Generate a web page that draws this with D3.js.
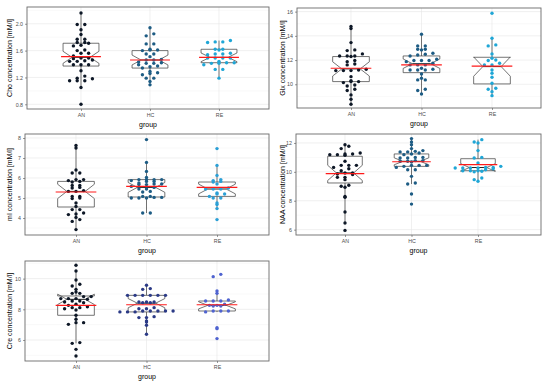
<!DOCTYPE html>
<html>
<head>
<meta charset="utf-8">
<script src="https://cdn.jsdelivr.net/npm/d3@7"></script>
<style>
  body { margin: 0; background: #fff; }
  svg { font-family: "Liberation Sans", Arial, sans-serif; }
</style>
</head>
<body>
<div id="chart"></div>
<script>
var groups = ["AN", "HC", "RE"];

// Cho
var choAN = [2.16,1.99,1.99,1.91,1.84,1.77,1.77,1.72,1.71,1.68,1.67,1.72,1.60,1.61,1.56,1.56,1.52,1.48,1.49,1.49,1.44,1.45,1.46,1.44,1.39,1.39,1.39,1.30,1.22,1.19,1.15,1.15,1.15,1.18,1.05,0.80];
var choHC = [1.94,1.82,1.85,1.70,1.70,1.60,1.61,1.61,1.62,1.51,1.55,1.55,1.46,1.46,1.47,1.41,1.43,1.42,1.41,1.39,1.36,1.37,1.34,1.29,1.27,1.26,1.24,1.19,1.19,1.14,1.09];
var choRE = [1.75,1.73,1.73,1.72,1.62,1.61,1.62,1.55,1.56,1.54,1.55,1.49,1.49,1.49,1.49,1.44,1.42,1.42,1.41,1.41,1.39,1.32,1.32,1.19];
var choBox = [[1.05,1.37,1.50,1.71,2.16],[1.09,1.34,1.46,1.60,1.94],[1.19,1.42,1.50,1.62,1.75]];
var choMean = [1.51,1.46,1.50];

// Glx
var glxAN = [14.77,14.6,13.44,12.78,12.84,12.34,12.34,12.34,12.29,12.51,11.87,11.96,11.68,11.60,11.13,11.13,11.24,11.18,11.13,10.63,10.30,10.22,10.22,10.14,9.94,9.86,9.59,9.48,9.12,8.76,8.35];
var glxHC = [14.13,13.17,13.17,12.89,12.89,12.84,12.34,12.48,12.56,12.42,11.96,11.96,11.96,11.87,12.07,11.6,11.6,11.74,11.6,11.18,11.18,11.24,11.18,11.32,10.85,10.5,10.36,10.36,9.59,9.48,9.2];
var glxRE = [15.87,13.8,13.25,13.17,12.51,12.01,12.15,11.96,11.74,11.6,11.6,11.18,10.91,10.58,10.08,9.67,9.59,9.39,9.06];
var glxBox = [[8.35,10.22,11.27,12.29,14.77],[9.2,10.96,11.7,12.34,14.13],[9.06,10.03,11.46,12.23,13.8]];
var glxMean = [11.32,11.6,11.5];

// mI
var miAN = [7.63,7.5,6.4,6.25,6.25,5.92,5.92,5.87,5.8,5.83,5.63,5.63,5.53,5.5,5.33,5.33,5.37,5.08,5.08,5.0,4.97,4.75,4.58,4.42,4.42,4.25,4.2,4.17,4.03,3.92,3.83,3.42];
var miHC = [7.92,6.78,6.33,5.92,5.83,5.75,5.92,5.87,5.92,6.03,5.83,5.92,5.53,5.7,5.67,5.7,5.67,5.45,5.58,5.45,5.33,5.3,5.08,5.03,5.0,5.0,5.0,5.03,5.08,4.25,4.25];
var miRE = [7.47,6.63,6.13,5.92,5.8,5.7,5.87,5.83,5.45,5.45,5.45,5.5,5.2,5.2,5.25,5.0,5.0,5.08,4.75,4.67,4.47,3.92];
var miBox = [[3.42,4.55,5.33,5.83,7.63],[4.25,5.05,5.53,5.92,6.78],[4.47,5.08,5.45,5.8,6.63]];
var miMean = [5.3,5.58,5.53];

// NAA
var naaAN = [11.88,11.77,11.61,11.24,11.19,11.15,11.24,11.19,11.31,10.73,10.45,10.45,10.45,10.31,10.22,10.08,9.93,9.81,9.85,9.92,9.62,9.62,9.46,9.07,8.93,9.0,8.24,8.3,7.22,6.46,5.95];
var naaHC = [12.3,12.07,11.88,11.61,11.38,11.31,11.42,11.38,11.47,11.0,11.19,10.96,11.24,10.96,11.0,10.73,10.78,10.68,10.73,10.78,10.45,10.31,10.38,10.45,10.45,10.15,10.15,9.69,9.16,9.23,8.47,7.77];
var naaRE = [12.23,12.07,12.0,11.47,11.0,10.96,10.31,10.38,10.61,10.27,10.27,10.22,10.27,10.27,10.31,10.08,10.08,10.04,10.08,10.15,10.0,9.57,9.46,9.35];
var naaBox = [[6.46,9.23,9.93,11.08,11.88],[9.16,10.38,10.73,11.24,12.3],[9.35,10.08,10.3,10.91,12.23]];
var naaMean = [9.88,10.7,10.5];

// Cre
var creAN = [10.87,10.5,9.91,9.63,9.52,9.3,9.04,9.04,9.13,8.83,8.65,8.7,8.7,8.83,8.7,8.54,8.33,8.43,8.54,8.48,8.26,8.11,8.04,8.11,8.17,7.96,7.61,7.35,7.13,7.02,7.13,5.78,5.83,5.39,4.96];
var creHC = [9.35,9.57,9.3,8.91,8.91,8.91,8.91,8.91,8.91,8.48,8.48,8.43,8.48,8.43,8.04,8.04,8.11,7.89,7.83,7.83,7.89,7.83,7.89,7.89,7.89,7.46,7.46,7.52,7.24,7.17,6.96,6.37];
var creRE = [10.28,10.13,9.04,9.2,8.54,8.61,8.54,8.54,8.26,8.26,8.33,8.22,8.22,7.89,7.89,7.83,7.89,6.74,6.8,6.09];
var creBox = [[5.78,7.61,8.65,8.87,10.5],[6.37,7.83,8.4,8.91,9.57],[7.83,7.89,8.26,8.54,9.2]];
var creMean = [8.26,8.3,8.3];

var svg = d3.select("#chart").append("svg")
    .attr("width", 550)
    .attr("height", 384);

var panels = [
  {title: "Cho concentration [mM/l]", data: [choAN, choHC, choRE], box: choBox, mean: choMean,
   x0: 27, x1: 269, y0: 7, y1: 109, cx: [81, 219], dom: [0.73, 2.25], ticks: [0.8, 1.2, 1.6, 2.0], fmt: ".1f", tx: 10,
   colors: ["#0d1726", "#1d5c84", "#1fa6d6"]},
  {title: "Glx concentration [mM/l]", data: [glxAN, glxHC, glxRE], box: glxBox, mean: glxMean,
   x0: 297, x1: 541, y0: 8, y1: 108, cx: [351, 492], dom: [8.04, 16.3], ticks: [10, 12, 14, 16], fmt: "d", tx: 283,
   colors: ["#0d1726", "#1d5c84", "#1fa6d6"]},
  {title: "mI concentration [mM/l]", data: [miAN, miHC, miRE], box: miBox, mean: miMean,
   x0: 25, x1: 269, y0: 134, y1: 235, cx: [76, 217], dom: [3.15, 8.2], ticks: [4, 5, 6, 7, 8], fmt: "d", tx: 10,
   colors: ["#0d1726", "#1d5c84", "#2a9fd6"]},
  {title: "NAA concentration [mM/l]", data: [naaAN, naaHC, naaRE], box: naaBox, mean: naaMean,
   x0: 296, x1: 541, y0: 134, y1: 235, cx: [345, 478], dom: [5.63, 12.62], ticks: [6, 8, 10, 12], fmt: "d", tx: 283,
   colors: ["#0d1726", "#1d5c84", "#1fa6d6"]},
  {title: "Cre concentration [mM/l]", data: [creAN, creHC, creRE], box: creBox, mean: creMean,
   x0: 25, x1: 269, y0: 261, y1: 361, cx: [76, 217], dom: [4.63, 11.15], ticks: [6, 8, 10], fmt: "d", tx: 10,
   colors: ["#0d1726", "#2b3a86", "#4f63d0"]}
];

// beeswarm, "center" style: bin by pixel height, spread each bin evenly around the middle
function swarm(values, y, s, h) {
  var pts = values.map(function(v) { return {v: v, y: y(v), dx: 0}; });
  var bins = d3.group(pts, function(d) { return Math.round(d.y / h); });
  bins.forEach(function(arr) {
    arr.sort(function(a, b) { return a.v - b.v; });
    var k = arr.length;
    arr.forEach(function(p, i) { p.dx = (i - (k - 1) / 2) * s; });
  });
  return pts;
}

panels.forEach(function(p) {
  var g = svg.append("g");

  var x = d3.scalePoint().domain(groups).range(p.cx);
  var y = d3.scaleLinear().domain(p.dom).range([p.y1, p.y0]);
  var step = x.step();
  var bw = step * 0.52;

  // panel background + grid
  g.append("rect")
    .attr("x", p.x0).attr("y", p.y0)
    .attr("width", p.x1 - p.x0).attr("height", p.y1 - p.y0)
    .attr("fill", "#fff");

  var minor = [];
  for (var i = 0; i < p.ticks.length - 1; i++) minor.push((p.ticks[i] + p.ticks[i + 1]) / 2);
  var tstep = p.ticks[1] - p.ticks[0];
  minor.push(p.ticks[0] - tstep / 2, p.ticks[p.ticks.length - 1] + tstep / 2);
  minor = minor.filter(function(v) { return v > p.dom[0] && v < p.dom[1]; });

  g.selectAll(".minor-y").data(minor).enter().append("line")
    .attr("x1", p.x0).attr("x2", p.x1)
    .attr("y1", function(d) { return y(d); }).attr("y2", function(d) { return y(d); })
    .attr("stroke", "#f2f2f2").attr("stroke-width", 0.5);

  g.selectAll(".major-y").data(p.ticks).enter().append("line")
    .attr("x1", p.x0).attr("x2", p.x1)
    .attr("y1", function(d) { return y(d); }).attr("y2", function(d) { return y(d); })
    .attr("stroke", "#e6e6e6").attr("stroke-width", 0.6);

  g.selectAll(".major-x").data(groups).enter().append("line")
    .attr("x1", function(d) { return x(d); }).attr("x2", function(d) { return x(d); })
    .attr("y1", p.y0).attr("y2", p.y1)
    .attr("stroke", "#e6e6e6").attr("stroke-width", 0.6);

  // whiskers
  groups.forEach(function(grp, gi) {
    var b = p.box[gi], cx = x(grp);
    g.append("line").attr("x1", cx).attr("x2", cx)
      .attr("y1", y(b[3])).attr("y2", y(b[4]))
      .attr("stroke", "#3a3a3a").attr("stroke-width", 0.7);
    g.append("line").attr("x1", cx).attr("x2", cx)
      .attr("y1", y(b[1])).attr("y2", y(b[0]))
      .attr("stroke", "#3a3a3a").attr("stroke-width", 0.7);
  });

  // notched boxes
  groups.forEach(function(grp, gi) {
    var b = p.box[gi], cx = x(grp);
    var n = p.data[gi].length;
    var nh = 1.58 * (b[3] - b[1]) / Math.sqrt(n);
    var nlo = b[2] - nh, nhi = b[2] + nh;
    var xl = cx - bw / 2, xr = cx + bw / 2, inset = bw / 4;
    var poly = [
      [xl, y(b[1])], [xl, y(nlo)], [xl + inset, y(b[2])], [xl, y(nhi)], [xl, y(b[3])],
      [xr, y(b[3])], [xr, y(nhi)], [xr - inset, y(b[2])], [xr, y(nlo)], [xr, y(b[1])]
    ];
    g.append("path")
      .attr("d", d3.line()(poly) + "Z")
      .attr("fill", "#fff")
      .attr("stroke", "#3a3a3a").attr("stroke-width", 0.7);
    g.append("line")
      .attr("x1", xl + inset).attr("x2", xr - inset)
      .attr("y1", y(b[2])).attr("y2", y(b[2]))
      .attr("stroke", "#222").attr("stroke-width", 1);
  });

  // points
  groups.forEach(function(grp, gi) {
    var pts = swarm(p.data[gi], y, 7.6, 3.2);
    g.selectAll(".pt" + gi).data(pts).enter().append("circle")
      .attr("cx", function(d) { return x(grp) + d.dx; })
      .attr("cy", function(d) { return d.y; })
      .attr("r", 1.7)
      .attr("fill", p.colors[gi]);
  });

  // mean lines
  groups.forEach(function(grp, gi) {
    var cx = x(grp);
    g.append("line")
      .attr("x1", cx - bw / 2 - 2).attr("x2", cx + bw / 2 + 2)
      .attr("y1", y(p.mean[gi])).attr("y2", y(p.mean[gi]))
      .attr("stroke", "#ff1a1a").attr("stroke-width", 1.1);
  });

  // border
  g.append("rect")
    .attr("x", p.x0).attr("y", p.y0)
    .attr("width", p.x1 - p.x0).attr("height", p.y1 - p.y0)
    .attr("fill", "none").attr("stroke", "#6b6b6b").attr("stroke-width", 0.9);

  // axes
  var ax = g.append("g")
    .attr("transform", "translate(0," + p.y1 + ")")
    .call(d3.axisBottom(x).tickSize(2).tickPadding(2));
  var ay = g.append("g")
    .attr("transform", "translate(" + p.x0 + ",0)")
    .call(d3.axisLeft(y).tickValues(p.ticks).tickFormat(d3.format(p.fmt)).tickSize(2).tickPadding(2));
  [ax, ay].forEach(function(a) {
    a.select(".domain").remove();
    a.selectAll(".tick line").attr("stroke", "#555").attr("stroke-width", 0.6);
    a.selectAll(".tick text").attr("fill", "#4d4d4d").style("font-size", "5.3px")
      .style("font-family", "'Liberation Sans', Arial, sans-serif");
  });

  g.append("text")
    .attr("x", (p.x0 + p.x1) / 2).attr("y", p.y1 + 18)
    .attr("text-anchor", "middle")
    .style("font-size", "7px").attr("fill", "#000")
    .text("group");

  g.append("text")
    .attr("transform", "translate(" + p.tx + "," + ((p.y0 + p.y1) / 2) + ") rotate(-90)")
    .attr("text-anchor", "middle")
    .attr("dy", "0.35em")
    .style("font-size", "7px").attr("fill", "#000")
    .text(p.title);
});
</script>
</body>
</html>
